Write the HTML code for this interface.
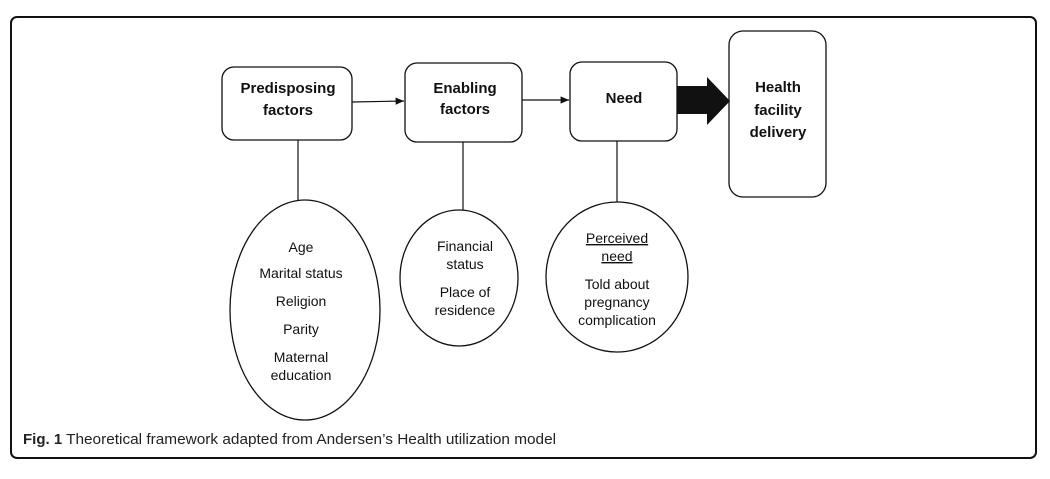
<!DOCTYPE html>
<html><head><style>
body{margin:0;background:#fff;width:1050px;height:474px;overflow:hidden}
text{font-family:"Liberation Sans",Arial,sans-serif}
.b{font-weight:bold;font-size:15px;fill:#111}
.n{font-size:14px;fill:#111}
</style></head><body>
<svg width="1050" height="474" xmlns="http://www.w3.org/2000/svg">
<defs><marker id="a" markerWidth="8" markerHeight="8" refX="7" refY="4" orient="auto"><path d="M0,1 L7,4 L0,7 z" fill="#111"/></marker></defs>
<rect x="11" y="17" width="1025" height="441" rx="6" fill="none" stroke="#111" stroke-width="2"/>
<g fill="#fff" stroke="#111" stroke-width="1.3">
<rect x="222" y="67" width="130" height="73" rx="12"/>
<rect x="405" y="63" width="117" height="79" rx="12"/>
<rect x="570" y="62" width="107" height="79" rx="12"/>
<rect x="729" y="31" width="97" height="166" rx="14"/>
<ellipse cx="305" cy="310" rx="75" ry="110"/>
<ellipse cx="459" cy="278" rx="59" ry="68"/>
<ellipse cx="617" cy="277" rx="71" ry="75"/>
</g>
<g stroke="#111" stroke-width="1.2">
<line x1="298" y1="140" x2="298" y2="200"/>
<line x1="463" y1="142" x2="463" y2="210"/>
<line x1="617" y1="141" x2="617" y2="202"/>
<line x1="352" y1="102" x2="404" y2="101" marker-end="url(#a)"/>
<line x1="522" y1="100" x2="569" y2="100" marker-end="url(#a)"/>
</g>
<path d="M677,86 L707,86 L707,77 L730,101 L707,125 L707,114 L677,114 z" fill="#111"/>
<g text-anchor="middle">
<text class="b" x="288" y="93">Predisposing</text>
<text class="b" x="288" y="115">factors</text>
<text class="b" x="465" y="93">Enabling</text>
<text class="b" x="465" y="114">factors</text>
<text class="b" x="624" y="103">Need</text>
<text class="b" x="778" y="92">Health</text>
<text class="b" x="778" y="115">facility</text>
<text class="b" x="778" y="137">delivery</text>
<text class="n" x="301" y="252">Age</text>
<text class="n" x="301" y="278">Marital status</text>
<text class="n" x="301" y="306">Religion</text>
<text class="n" x="301" y="334">Parity</text>
<text class="n" x="301" y="362">Maternal</text>
<text class="n" x="301" y="380">education</text>
<text class="n" x="465" y="251">Financial</text>
<text class="n" x="465" y="269">status</text>
<text class="n" x="465" y="297">Place of</text>
<text class="n" x="465" y="315">residence</text>
<text class="n" x="617" y="243" text-decoration="underline">Perceived</text>
<text class="n" x="617" y="261" text-decoration="underline">need</text>
<text class="n" x="617" y="289">Told about</text>
<text class="n" x="617" y="307">pregnancy</text>
<text class="n" x="617" y="325">complication</text>
</g>
<text x="23" y="444" style="font-size:15px;fill:#222"><tspan font-weight="bold">Fig. 1</tspan> <tspan textLength="490" lengthAdjust="spacingAndGlyphs">Theoretical framework adapted from Andersen’s Health utilization model</tspan></text>
</svg>
</body></html>
